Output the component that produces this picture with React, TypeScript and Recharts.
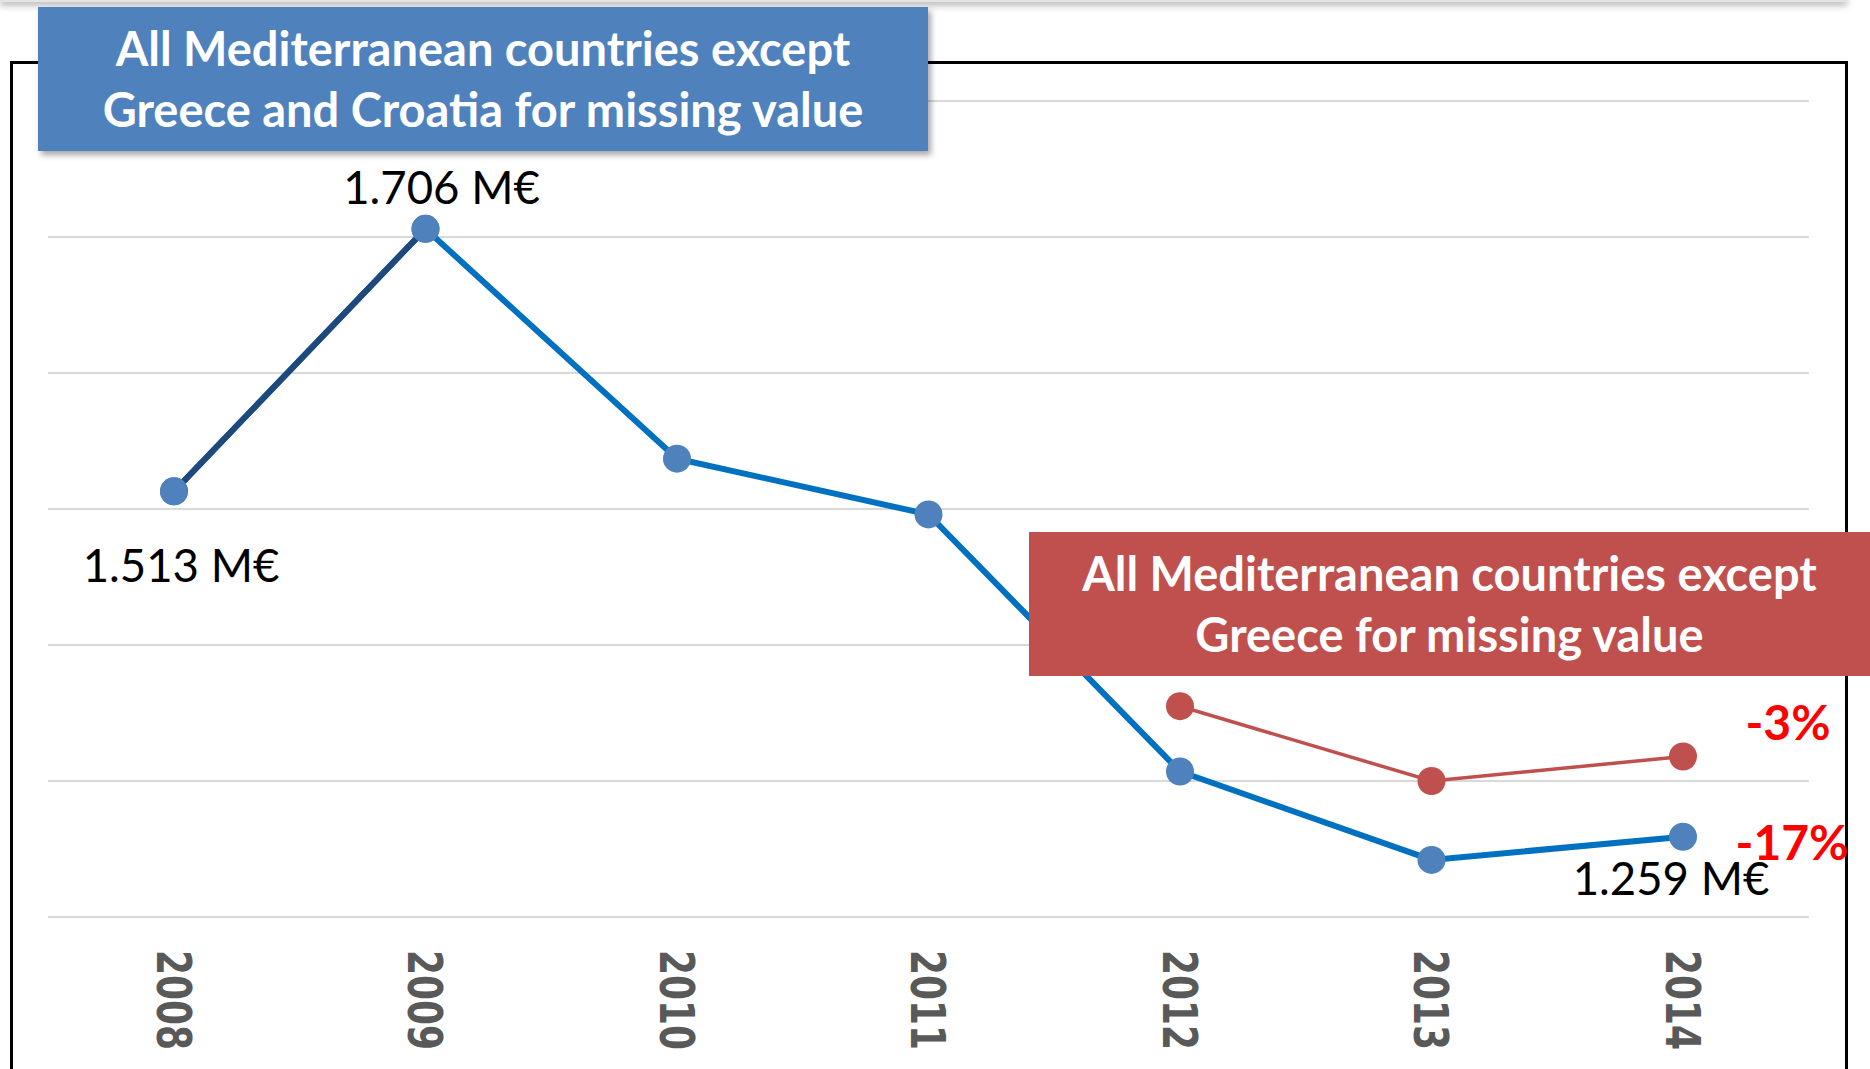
import { CartesianGrid, LabelList, Line, LineChart, XAxis, YAxis } from "recharts";

const years = ["2008", "2009", "2010", "2011", "2012", "2013", "2014"];
const allExceptGreeceCroatia = [1.513, 1.706, 1.537, 1.496, 1.307, 1.242, 1.259];
const allExceptGreece = [null, null, null, null, 1.355, 1.3, 1.318];
const valueLabels = ["1.513 M€", "1.706 M€", "", "", "", "", "1.259 M€"];
const blueChange = "-17%";
const redChange = "-3%";
const yTicks = [1.2, 1.3, 1.4, 1.5, 1.6, 1.7, 1.8];

const data = years.map((year, i) => ({
  year,
  main: allExceptGreeceCroatia[i],
  first: i < 2 ? allExceptGreeceCroatia[i] : null,
  red: allExceptGreece[i],
}));

const last = years.length - 1;

function YearTick({ x, y, payload }: any) {
  return (
    <text
      transform={`translate(${x},${y + 25}) rotate(90) scale(1,1.35)`}
      textAnchor="start"
      dominantBaseline="central"
      fontFamily="DejaVu Sans"
      fontWeight="bold"
      fontSize={36}
      fill="#595959"
    >
      {payload.value}
    </text>
  );
}

// label nudges, roughly where excel put them
const labelShift: Record<number, [number, number]> = { 0: [7, 73], 1: [16, -42], 6: [-12, 41] };

function ValueLabel(props: any) {
  const { x, y, index } = props;
  const text = valueLabels[index];
  if (!text) return null;
  const [dx, dy] = labelShift[index] ?? [0, 0];
  return (
    <text x={x + dx} y={y + dy} textAnchor="middle" dominantBaseline="central" fontFamily="Lato" fontSize={45.5} fill="#000">
      {text}
    </text>
  );
}

function ChangeLabel(text: string, dx: number, dy: number) {
  return (props: any) => {
    if (props.index !== last) return null;
    return (
      <text x={props.x + dx} y={props.y + dy} textAnchor="middle" dominantBaseline="central" fontFamily="Lato" fontWeight="bold" fontSize={48} fill="#FF0000">
        {text}
      </text>
    );
  };
}

const boxText = { fontFamily: "Lato", fontWeight: 700, fontSize: 47, lineHeight: "61px", color: "#fff", textAlign: "center" as const };

export default function App() {
  return (
    <div style={{ position: "absolute", left: 0, top: 0, width: 1870, height: 1069, overflow: "hidden", background: "#fff" }}>
      <div style={{ position: "absolute", left: 0, top: -4, width: 1847, height: 6, background: "#e4e4e4", boxShadow: "0 3px 7px rgba(0,0,0,0.35)" }} />
      <div style={{ position: "absolute", left: 10, top: 61, width: 1838, height: 1200, boxSizing: "border-box", border: "3px solid #000" }} />
      <div style={{ position: "absolute", left: 0, top: 0 }}>
        <LineChart width={1870} height={1069} data={data} margin={{ top: 101, right: 61, bottom: 0, left: 48 }}>
          <CartesianGrid vertical={false} stroke="#D9D9D9" strokeWidth={2} />
          <XAxis
            dataKey="year"
            axisLine={false}
            tickLine={false}
            height={152}
            padding={{ left: 126, right: 126 }}
            tick={<YearTick />}
            interval={0}
          />
          <YAxis hide domain={[1.2, 1.8]} ticks={yTicks} />
          <Line
            dataKey="main"
            stroke="#0070C0"
            strokeWidth={6}
            dot={{ r: 14, fill: "#4F81BD", stroke: "none" }}
            isAnimationActive={false}
          >
            <LabelList dataKey="main" content={<ValueLabel />} />
            <LabelList dataKey="main" content={ChangeLabel(blueChange, 109, 5)} />
          </Line>
          <Line
            dataKey="first"
            stroke="#1F497D"
            strokeWidth={6}
            dot={{ r: 14, fill: "#4F81BD", stroke: "none" }}
            isAnimationActive={false}
          />
          <Line
            dataKey="red"
            stroke="#C0504D"
            strokeWidth={3.5}
            dot={{ r: 14, fill: "#C0504D", stroke: "none" }}
            isAnimationActive={false}
          >
            <LabelList dataKey="red" content={ChangeLabel(redChange, 105, -35)} />
          </Line>
        </LineChart>
      </div>
      <div
        style={{
          position: "absolute",
          left: 38,
          top: 7,
          width: 890,
          height: 144,
          background: "#4F81BD",
          boxShadow: "3px 4px 6px rgba(0,0,0,0.35)",
          display: "flex",
          flexDirection: "column",
          justifyContent: "center",
          ...boxText,
        }}
      >
        <div>All Mediterranean countries except</div>
        <div>Greece and Croatia for missing value</div>
      </div>
      <div
        style={{
          position: "absolute",
          left: 1029,
          top: 532,
          width: 841,
          height: 144,
          background: "#C0504D",
          display: "flex",
          flexDirection: "column",
          justifyContent: "center",
          ...boxText,
        }}
      >
        <div>All Mediterranean countries except</div>
        <div>Greece for missing value</div>
      </div>
    </div>
  );
}
